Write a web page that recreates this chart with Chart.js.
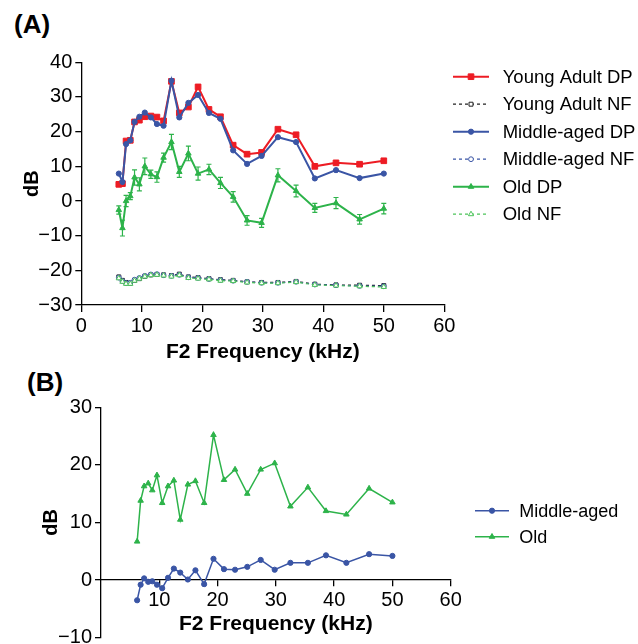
<!DOCTYPE html>
<html>
<head>
<meta charset="utf-8">
<script src="https://cdn.jsdelivr.net/npm/chart.js@4"></script>
<style>
body{margin:0;overflow:hidden;background:#fff;width:638px;height:644px;position:relative}
canvas{position:absolute;left:0}
.lbl{position:absolute;font:bold 26px "Liberation Sans",Arial,sans-serif;line-height:26px}
</style>
</head>
<body>
<div class="lbl" style="left:14px;top:11px">(A)</div>
<div class="lbl" style="left:27px;top:369px">(B)</div>
<canvas id="grafA" width="638" height="370" style="top:0"></canvas>
<canvas id="grafB" width="638" height="290" style="top:370px"></canvas>
<script>
// frequencias F2 (kHz)
var freqKHz = [6.2, 6.8, 7.4, 8.1, 8.8, 9.6, 10.5, 11.5, 12.5, 13.6, 14.9, 16.2, 17.7, 19.3, 21.1, 23.0, 25.1, 27.4, 29.8, 32.5, 35.5, 38.6, 42.1, 46.0, 50.0];

// painel A - DP e piso de ruido (dB)
var youngDP = [4.8, 5.0, 17.3, 17.5, 22.8, 23.3, 24.3, 24.5, 24.2, 23.1, 34.5, 25.4, 27.1, 32.9, 26.4, 24.3, 16.1, 13.5, 14.0, 20.7, 19.1, 10.0, 11.0, 10.6, 11.6];
var youngNF = [-21.9, -22.9, -23.5, -23.7, -22.9, -22.4, -21.7, -21.3, -21.2, -21.3, -21.5, -21.1, -21.9, -22.1, -22.4, -22.7, -22.9, -23.3, -23.5, -23.5, -23.2, -24.0, -24.2, -24.3, -24.4];
var middleDP = [7.9, 5.5, 16.4, 17.5, 22.8, 24.3, 25.5, 24.1, 22.2, 21.7, 34.7, 24.1, 28.3, 30.6, 25.4, 23.7, 14.6, 10.7, 13.0, 18.4, 17.0, 6.5, 8.9, 6.6, 7.9];
var middleNF = [-22.1, -23.1, -23.7, -23.6, -22.7, -22.2, -21.6, -21.2, -21.1, -21.4, -21.6, -21.3, -22.0, -22.2, -22.5, -22.8, -23.0, -23.3, -23.6, -23.6, -23.3, -24.1, -24.3, -24.5, -24.6];
var oldDP = [-2.6, -7.8, 0.0, 1.4, 6.8, 4.8, 10.0, 7.7, 6.9, 12.5, 17.0, 8.4, 13.7, 7.9, 9.1, 5.2, 1.2, -5.6, -6.3, 7.4, 2.9, -2.0, -0.6, -5.3, -2.2];
var oldDPerr = [1.2, 2.3, 1.6, 1.0, 2.2, 1.9, 2.4, 1.2, 1.5, 1.3, 2.2, 1.6, 2.1, 1.9, 1.5, 1.6, 1.5, 1.4, 1.3, 1.9, 1.7, 1.3, 1.6, 1.4, 1.5];
var oldNF = [-22.3, -23.3, -23.9, -23.9, -23.0, -22.4, -21.8, -21.4, -21.3, -21.5, -21.8, -21.4, -22.2, -22.4, -22.6, -23.0, -23.1, -23.5, -23.7, -23.7, -23.4, -24.2, -24.4, -24.6, -24.8];

// painel B - diferenca (dB)
var middleDiff = [-3.5, -0.8, 0.3, -0.3, -0.2, -0.8, -1.4, 0.4, 2.0, 1.3, 0.1, 1.7, -0.7, 3.7, 1.9, 1.8, 2.3, 3.5, 1.8, 3.0, 3.0, 4.3, 3.0, 4.5, 4.2];
var oldDiff = [6.7, 13.8, 16.3, 16.8, 15.6, 18.2, 13.4, 16.3, 17.3, 10.5, 16.6, 17.2, 13.4, 25.2, 17.4, 19.2, 15.0, 19.2, 20.3, 12.8, 16.1, 12.0, 11.4, 15.9, 13.5];

// ticks [min, max, passo]
var ticksA_x = [0, 60, 10];
var ticksA_y = [-30, 40, 10];
var ticksB_x = [0, 60, 10];
var ticksB_y = [-10, 30, 10];

var RED = '#ed1c24', BLUE = '#3a55a5', GREEN = '#2db34a', GREEN_NF = '#4cc35a';
var FONT = "'Liberation Sans', Arial, sans-serif";
Chart.defaults.font.family = FONT;
Chart.defaults.color = '#000';

function pts(vals) {
  return freqKHz.map(function (f, i) { return {x: f, y: vals[i]}; });
}
function fmt(v) {
  return v < 0 ? '\u2212' + Math.abs(v) : '' + v;
}

// barras de erro desenhadas pelas escalas do chart
var errorBars = {
  id: 'errorBars',
  beforeDatasetDraw: function (chart, args) {
    var ds = chart.data.datasets[args.index];
    if (!ds.errors) return;
    var xs = chart.scales.x, ys = chart.scales.y, ctx = chart.ctx;
    ctx.save();
    ctx.strokeStyle = ds.borderColor;
    ctx.lineWidth = 1.2;
    ds.data.forEach(function (p, i) {
      var x = xs.getPixelForValue(p.x);
      var yt = ys.getPixelForValue(p.y + ds.errors[i]);
      var yb = ys.getPixelForValue(p.y - ds.errors[i]);
      ctx.beginPath();
      ctx.moveTo(x, yt); ctx.lineTo(x, yb);
      ctx.moveTo(x - 2.5, yt); ctx.lineTo(x + 2.5, yt);
      ctx.moveTo(x - 2.5, yb); ctx.lineTo(x + 2.5, yb);
      ctx.stroke();
    });
    ctx.restore();
  }
};

// legenda ao lado (linha + marcador + texto)
var sideLegend = {
  id: 'sideLegend',
  afterDraw: function (chart, args, o) {
    var ctx = chart.ctx;
    ctx.save();
    chart.data.datasets.forEach(function (ds, i) {
      var y = o.top + i * o.gap;
      ctx.strokeStyle = ds.borderColor;
      ctx.lineWidth = ds.borderWidth;
      ctx.setLineDash(ds.borderDash || []);
      ctx.beginPath();
      ctx.moveTo(o.x0, y); ctx.lineTo(o.x1, y);
      ctx.stroke();
      ctx.setLineDash([]);
      ctx.fillStyle = ds.pointBackgroundColor;
      ctx.strokeStyle = ds.pointBorderColor;
      ctx.lineWidth = ds.pointBorderWidth;
      Chart.helpers.drawPoint(ctx, {pointStyle: ds.pointStyle, radius: ds.pointRadius, rotation: 0, borderWidth: ds.pointBorderWidth}, (o.x0 + o.x1) / 2, y);
      ctx.fillStyle = '#000';
      ctx.font = o.font;
      ctx.textBaseline = 'middle';
      ctx.fillText(ds.label, o.textX, y + 1);
    });
    ctx.restore();
  }
};

function axisY(t, width, titlePad) {
  return {
    type: 'linear', min: t[0], max: t[1],
    afterFit: function (s) { s.width = width; },
    ticks: {stepSize: t[2], font: {size: 20}, padding: 3, callback: fmt},
    grid: {drawOnChartArea: false, drawTicks: true, tickLength: 6, color: '#000', lineWidth: 1.3},
    border: {display: true, color: '#000', width: 1.3},
    title: {display: true, text: 'dB', font: {size: 20, weight: 'bold'}, padding: {top: titlePad, bottom: 0}}
  };
}

function line(label, vals, color, style, radius, open, dashed, width) {
  return {
    label: label,
    data: pts(vals),
    borderColor: color,
    borderWidth: width,
    borderDash: dashed ? [3, 3] : [],
    pointStyle: style,
    pointRadius: radius,
    pointHoverRadius: radius,
    pointBackgroundColor: open ? '#fff' : color,
    pointBorderColor: color,
    pointBorderWidth: 1,
    tension: 0,
    fill: false
  };
}

// painel A
var dsA = [
  line('Young Adult DP', youngDP, RED, 'rect', 4, false, false, 2),
  line('Young Adult NF', youngNF, '#222', 'rect', 2.8, true, true, 1.2),
  line('Middle-aged DP', middleDP, BLUE, 'circle', 2.6, false, false, 2),
  line('Middle-aged NF', middleNF, BLUE, 'circle', 2.4, true, true, 1.2),
  line('Old DP', oldDP, GREEN, 'triangle', 3.2, false, false, 2),
  line('Old NF', oldNF, GREEN_NF, 'triangle', 3, true, true, 1.2)
];
dsA[4].errors = oldDPerr;
dsA[0].order = 5; dsA[1].order = 4; dsA[2].order = 3; dsA[3].order = 2; dsA[4].order = 1; dsA[5].order = 0;

var grafA = new Chart(document.getElementById('grafA'), {
  type: 'line',
  data: {datasets: dsA},
  options: {
    responsive: false,
    animation: false,
    layout: {padding: {left: 0, top: 62.3, right: 193.7, bottom: 0}},
    plugins: {
      legend: {display: false},
      tooltip: {enabled: false},
      sideLegend: {top: 76.7, gap: 27.5, x0: 453, x1: 489, textX: 502.7, font: '18.5px ' + FONT}
    },
    scales: {
      x: {
        type: 'linear', min: ticksA_x[0], max: ticksA_x[1],
        afterFit: function (s) { s.height = 65; },
        ticks: {stepSize: ticksA_x[2], font: {size: 20}, padding: 2, maxRotation: 0},
        grid: {drawOnChartArea: false, drawTicks: true, tickLength: 7, color: '#000', lineWidth: 1.3},
        border: {display: true, color: '#000', width: 1.3},
        title: {display: true, text: 'F2 Frequency (kHz)', font: {size: 21, weight: 'bold'}, padding: {top: 0, bottom: 5}}
      },
      y: axisY(ticksA_y, 81.3, 20)
    }
  },
  plugins: [errorBars, sideLegend]
});

// painel B
var dsB = [
  line('Middle-aged', middleDiff, BLUE, 'circle', 2.6, false, false, 1.5),
  line('Old', oldDiff, GREEN, 'triangle', 3.2, false, false, 1.5)
];

var grafB = new Chart(document.getElementById('grafB'), {
  type: 'line',
  data: {datasets: dsB},
  options: {
    responsive: false,
    animation: false,
    layout: {padding: {left: 0, top: 37.3, right: 187.3, bottom: 22.3}},
    plugins: {
      legend: {display: false},
      tooltip: {enabled: false},
      sideLegend: {top: 140.7, gap: 26, x0: 475, x1: 509, textX: 519.3, font: '18px ' + FONT}
    },
    scales: {
      x: {
        type: 'linear', min: ticksB_x[0], max: ticksB_x[1],
        position: {y: 0},
        afterFit: function (s) { s.height = 58; },
        ticks: {stepSize: ticksB_x[2], font: {size: 20}, padding: 2, maxRotation: 0,
          callback: function (v) { return v === 0 ? '' : fmt(v); }},
        grid: {drawOnChartArea: false, drawTicks: true, tickLength: 6, lineWidth: 1.3,
          color: function (c) { return c.tick && c.tick.value === 0 ? 'rgba(0,0,0,0)' : '#000'; }},
        border: {display: true, color: '#000', width: 1.3},
        title: {display: true, text: 'F2 Frequency (kHz)', font: {size: 21, weight: 'bold'}, padding: {top: 0, bottom: 1}}
      },
      y: axisY(ticksB_y, 101, 39)
    }
  },
  plugins: [sideLegend]
});
</script>
</body>
</html>
